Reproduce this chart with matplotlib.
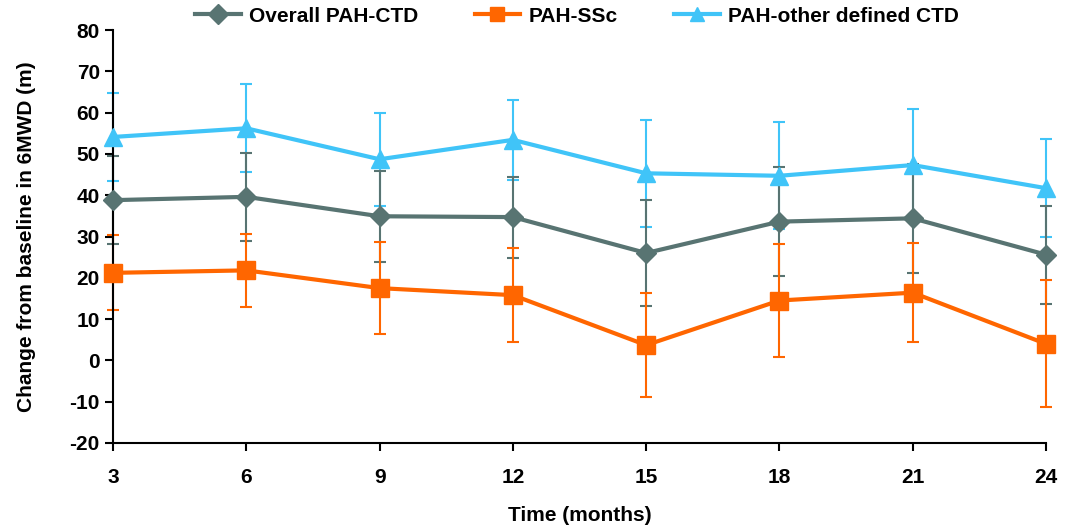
import matplotlib
matplotlib.use("Agg")
import matplotlib.pyplot as plt
from matplotlib import font_manager

months = [3, 6, 9, 12, 15, 18, 21, 24]

overall_mean = [38.8, 39.6, 34.9, 34.7, 26.0, 33.6, 34.4, 25.6]
overall_err = [10.7, 10.7, 11.0, 9.8, 12.8, 13.2, 13.2, 11.9]

ssc_mean = [21.2, 21.8, 17.5, 15.8, 3.7, 14.5, 16.4, 4.0]
ssc_err = [9.1, 8.8, 11.1, 11.3, 12.6, 13.7, 12.0, 15.4]

other_mean = [54.1, 56.2, 48.7, 53.4, 45.3, 44.7, 47.3, 41.7]
other_err = [10.7, 10.7, 11.2, 9.7, 12.9, 13.0, 13.5, 11.9]

labels = ["Overall PAH-CTD", "PAH-SSc", "PAH-other defined CTD"]
yticks = list(range(-20, 81, 10))

names = {f.name for f in font_manager.fontManager.ttflist}
fam = ["Liberation Sans Narrow", "DejaVu Sans"] if "Liberation Sans Narrow" in names else ["Liberation Sans", "DejaVu Sans"]
plt.rcParams['font.family'] = fam
plt.rcParams['font.weight'] = 'bold'
plt.rcParams['axes.unicode_minus'] = False

gray = "#587472"
orange = "#FF6600"
blue = "#40C4F8"

fig = plt.figure(figsize=(10.69, 5.30), dpi=100)
ax = fig.add_axes([113/1069, 1-443/530, (1046-113)/1069, (443-30)/530])

series = [
    (other_mean, other_err, blue, "^", 13, labels[2]),
    (overall_mean, overall_err, gray, "D", 10, labels[0]),
    (ssc_mean, ssc_err, orange, "s", 13, labels[1]),
]
for m, e, c, mk, ms, lab in series:
    eb = ax.errorbar(months, m, yerr=e, fmt="none", ecolor=c, elinewidth=1.5,
                     capsize=4, capthick=1.5, zorder=2)
    for art in eb.lines[1]:
        art.set_clip_on(False)
    for art in eb.lines[2]:
        art.set_clip_on(False)
handles = {}
for m, e, c, mk, ms, lab in series:
    h, = ax.plot(months, m, color=c, lw=3, marker=mk, markersize=ms,
                 markeredgecolor=c, label=lab, zorder=3, clip_on=False)
    handles[lab] = h

ax.set_xlim(3, 24)
ax.set_ylim(-20, 80)
ax.set_xticks(months)
ax.set_yticks(yticks)
ax.spines['top'].set_visible(False)
ax.spines['right'].set_visible(False)
ax.spines['left'].set_linewidth(1.5)
ax.spines['bottom'].set_linewidth(1.5)
ax.tick_params(axis='both', labelsize=15, width=1.5, length=6, direction='out')
ax.tick_params(axis='x', pad=12)
for t in ax.get_xticklabels() + ax.get_yticklabels():
    t.set_fontweight('bold')
ax.set_xlabel("Time (months)", fontsize=15, fontweight='bold', labelpad=14)
ax.set_ylabel("Change from baseline in 6MWD (m)", fontsize=15, fontweight='bold', labelpad=24)

leg = fig.legend([handles[l] for l in labels], labels, loc='center', ncol=3,
                 bbox_to_anchor=(577/1069, 1-16/530), frameon=False,
                 prop={'size': 15, 'weight': 'bold'}, handlelength=2.2,
                 columnspacing=2.7, handletextpad=0.4)
for h in leg.legend_handles:
    h.set_markersize(10)

fig.savefig("out.png", dpi=100)
